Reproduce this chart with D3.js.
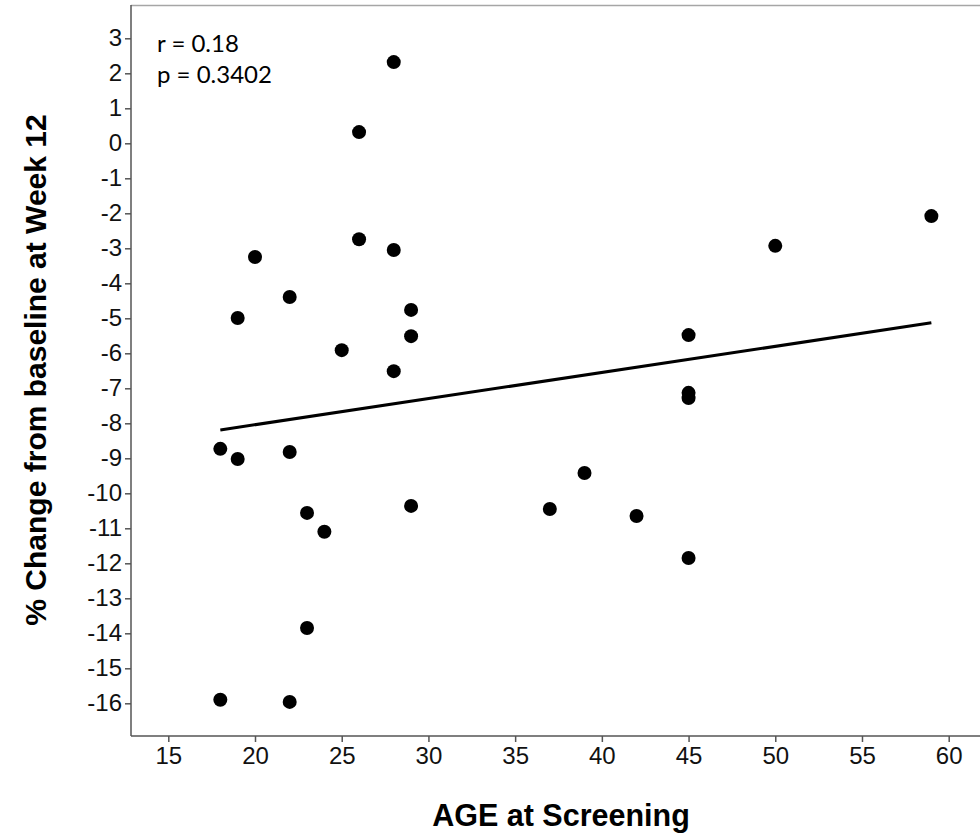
<!DOCTYPE html>
<html><head><meta charset="utf-8">
<script src="https://cdn.jsdelivr.net/npm/d3@7"></script>
<style>body{margin:0;background:#fff}svg{display:block}</style>
</head><body>
<script>
const ages = [28,26,26,28,20,22,19,29,29,25,28,18,19,22,23,24,29,23,18,22,37,39,42,45,45,45,45,50,59];
const changes = [2.32,0.32,-2.74,-3.05,-3.25,-4.39,-4.99,-4.76,-5.51,-5.91,-6.51,-8.73,-9.02,-8.82,-10.56,-11.1,-10.36,-13.85,-15.9,-15.96,-10.45,-9.42,-10.65,-5.48,-7.13,-7.28,-11.85,-2.93,-2.08];
const fitAges = [18, 59];
const fitValues = [-8.19, -5.13];
const xTicks = [15,20,25,30,35,40,45,50,55,60];
const yTicks = d3.range(-16, 4);
const stats = ["r = 0.18", "p = 0.3402"];

(function () {
const W = 980, H = 836;
const mLeft = 131, mTop = 5, mRight = 992, mBottom = 736;
const svg = d3.select("body").append("svg").attr("width", W).attr("height", H);

const x = d3.scaleLinear().domain([15, 60]).range([168.3, 948.7]);
const y = d3.scaleLinear().domain([-16, 3]).range([703.3, 38.3]);

svg.append("line").attr("x1", mLeft).attr("x2", mRight).attr("y1", mTop + 0.5).attr("y2", mTop + 0.5)
  .attr("stroke", "#a6a6a6").attr("stroke-width", 1.5);

const fmt = d => String(d);
const xAxis = svg.append("g").attr("transform", `translate(0,${mBottom})`)
  .call(d3.axisBottom(x).tickValues(xTicks).tickFormat(fmt).tickSize(6).tickPadding(5).tickSizeOuter(0));
const yAxis = svg.append("g").attr("transform", `translate(${mLeft},0)`)
  .call(d3.axisLeft(y).tickValues(yTicks).tickFormat(fmt).tickSize(6).tickPadding(3).tickSizeOuter(0));
xAxis.select(".domain").attr("d", `M${mLeft},0H${mRight}`);
yAxis.select(".domain").attr("d", `M0,${mTop}V${mBottom}`);
[xAxis, yAxis].forEach(g => {
  g.attr("font-size", null).attr("font-family", null);
  g.select(".domain").attr("stroke", "#555").attr("stroke-width", 1.5);
  g.selectAll(".tick line").attr("stroke", "#555").attr("stroke-width", 1.5);
  g.selectAll(".tick text").attr("fill", "#111")
    .style("font-family", "'Liberation Sans', Arial, sans-serif").style("font-size", "24px");
});

svg.append("line")
  .attr("x1", x(fitAges[0])).attr("y1", y(fitValues[0]))
  .attr("x2", x(fitAges[1])).attr("y2", y(fitValues[1]))
  .attr("stroke", "#000").attr("stroke-width", 3);

svg.append("g").selectAll("circle").data(ages.map((a, i) => [a, changes[i]])).join("circle")
  .attr("cx", d => x(d[0])).attr("cy", d => y(d[1])).attr("r", 7).attr("fill", "#000");

svg.append("g").selectAll("text").data(stats).join("text")
  .attr("x", 157).attr("y", (d, i) => 52 + i * 31)
  .style("font-family", "Lato, 'Open Sans', sans-serif").style("font-size", "24px").attr("fill", "#000")
  .text(d => d);

svg.append("text").attr("x", 561).attr("y", 826).attr("text-anchor", "middle")
  .style("font-family", "'Liberation Sans', Arial, sans-serif").style("font-size", "30.5px").style("font-weight", "bold")
  .text("AGE at Screening");
svg.append("text").attr("transform", "translate(46,370) rotate(-90)").attr("text-anchor", "middle")
  .style("font-family", "'Liberation Sans', Arial, sans-serif").style("font-size", "30px").style("font-weight", "bold")
  .text("% Change from baseline at Week 12");
})();
</script>
</body></html>
